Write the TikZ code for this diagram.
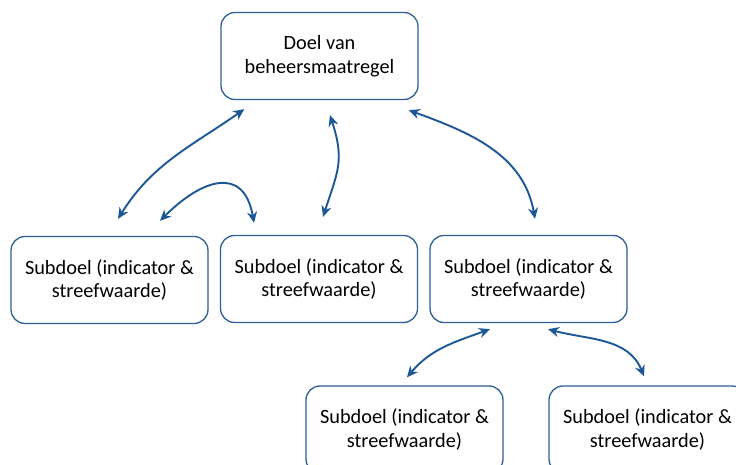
\documentclass[tikz,border=0pt]{standalone}
\usepackage{fontspec}
\setmainfont{Carlito}
\usetikzlibrary{arrows.meta,calc}
\definecolor{boxblue}{RGB}{46,94,150}
\definecolor{arrowblue}{RGB}{28,88,150}
\begin{document}
\begin{tikzpicture}[x=1pt,y=1pt,
  box/.style={draw=boxblue, line width=1.3pt, rounded corners=14pt,
    minimum width=197pt, minimum height=87pt, align=center,
    font=\fontsize{20.3}{23.5}\selectfont, inner sep=0pt},
  link/.style={draw=arrowblue, line width=1.9pt,
    {Stealth[length=11pt,width=10pt,inset=3.5pt]}-{Stealth[length=11pt,width=10pt,inset=3.5pt]}}]
\useasboundingbox (0,0) rectangle (736,465);
\node[box] (top) at (319.5,409) {Doel van\\beheersmaatregel};
\node[box] (A) at (109.5,185) {Subdoel (indicator \&\\streefwaarde)};
\node[box] (B) at (319,186) {Subdoel (indicator \&\\streefwaarde)};
\node[box] (C) at (528.5,186) {Subdoel (indicator \&\\streefwaarde)};
\node[box] (D) at (404.5,35.5) {Subdoel (indicator \&\\streefwaarde)};
\node[box] (E) at (647.5,35.5) {Subdoel (indicator \&\\streefwaarde)};
% connector end points
\coordinate (t1) at ($(top.south west)+(24,-9)$);
\coordinate (t3) at ($(top.south)+(10.5,-15)$);
\coordinate (t4) at ($(top.south east)+(-10,-10)$);
\coordinate (a1) at ($(A.north)+(8.5,17)$);
\coordinate (a2) at ($(A.north)+(50.5,15)$);
\coordinate (b2) at ($(B.north)+(-65,12)$);
\coordinate (b3) at ($(B.north)+(4,18)$);
\coordinate (c4) at ($(C.north)+(6.5,16)$);
\coordinate (c5) at ($(C.south)+(-38.5,-6)$);
\coordinate (c6) at ($(C.south)+(19.5,-6)$);
\coordinate (d5) at ($(D.north)+(2.5,8)$);
\coordinate (e6) at ($(E.north)+(-3.5,9)$);
\draw[link] (a1) to[out=58,in=215] (t1);
\draw[link] (a2) to[out=45,in=100,looseness=1.6] (b2);
\draw[link] (b3) to[out=72,in=-72,looseness=1.2] (t3);
\draw[link] (t4) to[out=-20,in=100] (c4);
\draw[link] (d5) to[out=50,in=200] (c5);
\draw[link] (c6) to[out=-15,in=112] (e6);
\end{tikzpicture}
\end{document}
